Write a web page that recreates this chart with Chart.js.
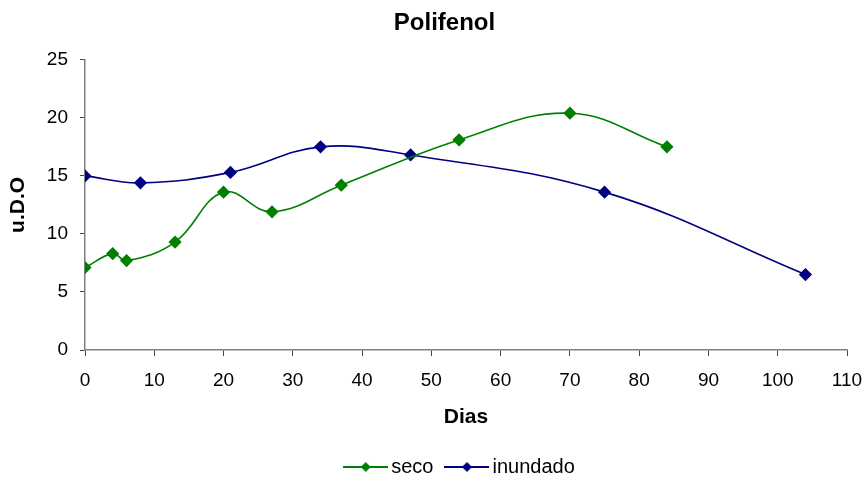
<!DOCTYPE html>
<html>
<head>
<meta charset="utf-8">
<script src="https://cdn.jsdelivr.net/npm/chart.js@4/dist/chart.umd.min.js"></script>
<style>
  html, body { margin: 0; padding: 0; background: #ffffff; }
  #wrap { width: 867px; height: 477px; }
</style>
</head>
<body>
<div id="wrap"><canvas id="chart" width="867" height="477"></canvas></div>
<script>
// Polifenol (u.D.O) a lo largo de los días
const secoDias = [0, 4, 6, 13, 20, 27, 37, 54, 70, 84];
const secoValores = [7.1, 8.3, 7.7, 9.3, 13.6, 11.9, 14.2, 18.1, 20.4, 17.5];
const inundadoDias = [0, 8, 21, 34, 47, 75, 104];
const inundadoValores = [15.0, 14.4, 15.3, 17.5, 16.8, 13.6, 6.5];
const xTicks = [0, 10, 20, 30, 40, 50, 60, 70, 80, 90, 100, 110];
const yTicks = [0, 5, 10, 15, 20, 25];

const GREEN = '#008000';
const NAVY = '#000080';
const FONT = '"Liberation Sans", Arial, sans-serif';

function pairs(xs, ys) {
  return xs.map((x, i) => ({ x: x, y: ys[i] }));
}

// legend symbol: short line with a diamond in the middle
function legendSymbol(color) {
  const c = document.createElement('canvas');
  c.width = 45; c.height = 12;
  const g = c.getContext('2d');
  g.strokeStyle = color; g.lineWidth = 2;
  g.beginPath(); g.moveTo(0, 6); g.lineTo(45, 6); g.stroke();
  g.fillStyle = color;
  g.beginPath(); g.moveTo(22.5, 1); g.lineTo(27.5, 6); g.lineTo(22.5, 11); g.lineTo(17.5, 6); g.closePath(); g.fill();
  return c;
}
const symbols = [legendSymbol(GREEN), legendSymbol(NAVY)];

// nudge title and legend horizontally so they sit over the plot
const blockOffsets = {
  id: 'blockOffsets',
  afterLayout(chart) {
    const shift = (box, dx) => { if (box) { box.left += dx; box.right += dx; } };
    shift(chart.titleBlock, 21);
    shift(chart.legend, 39);
  }
};

new Chart(document.getElementById('chart'), {
  type: 'line',
  data: {
    datasets: [
      {
        label: 'seco',
        data: pairs(secoDias, secoValores),
        borderColor: GREEN,
        backgroundColor: GREEN,
        borderWidth: 1.6,
        pointStyle: 'rectRot',
        pointRadius: 5.5,
        pointHoverRadius: 5.5,
        tension: 0.4,
        fill: false
      },
      {
        label: 'inundado',
        data: pairs(inundadoDias, inundadoValores),
        borderColor: NAVY,
        backgroundColor: NAVY,
        borderWidth: 1.6,
        pointStyle: 'rectRot',
        pointRadius: 5.5,
        pointHoverRadius: 5.5,
        tension: 0.4,
        fill: false
      }
    ]
  },
  plugins: [blockOffsets],
  options: {
    responsive: false,
    animation: false,
    layout: { padding: { left: 0, right: 20, top: 0, bottom: -10 } },
    plugins: {
      title: {
        display: true,
        text: 'Polifenol',
        color: '#000',
        font: { family: FONT, size: 24, weight: 'bold' },
        padding: { top: 9, bottom: 22 }
      },
      legend: {
        display: true,
        position: 'bottom',
        labels: {
          color: '#000',
          font: { family: FONT, size: 20 },
          usePointStyle: true,
          pointStyleWidth: 31,
          boxHeight: 12,
          padding: 18,
          generateLabels: (chart) => chart.data.datasets.map((ds, i) => ({
            text: ds.label,
            fillStyle: ds.borderColor,
            strokeStyle: ds.borderColor,
            fontColor: '#000',
            pointStyle: symbols[i],
            lineWidth: 0,
            datasetIndex: i,
            hidden: false
          }))
        }
      },
      tooltip: { enabled: false }
    },
    scales: {
      x: {
        type: 'linear',
        min: 0,
        max: 110,
        afterBuildTicks: (s) => { s.ticks = xTicks.map(v => ({ value: v })); },
        afterFit: (s) => { s.height = 89; s.paddingRight = 0; },
        ticks: {
          color: '#000',
          font: { family: FONT, size: 19 },
          padding: 13
        },
        grid: {
          display: true,
          drawOnChartArea: false,
          drawTicks: true,
          tickLength: 6,
          color: '#444'
        },
        border: { display: true, color: '#808080', width: 1.5 },
        title: {
          display: true,
          text: 'Dias',
          color: '#000',
          font: { family: FONT, size: 21, weight: 'bold' },
          padding: { top: 0, bottom: 9 }
        }
      },
      y: {
        type: 'linear',
        min: 0,
        max: 25,
        afterBuildTicks: (s) => { s.ticks = yTicks.map(v => ({ value: v })); },
        afterFit: (s) => { s.width = 85; },
        ticks: {
          color: '#000',
          font: { family: FONT, size: 19 },
          padding: 12
        },
        grid: {
          display: true,
          drawOnChartArea: false,
          drawTicks: true,
          tickLength: 5,
          color: '#444'
        },
        border: { display: true, color: '#808080', width: 1.5 },
        title: {
          display: true,
          text: 'u.D.O',
          color: '#000',
          font: { family: FONT, size: 21, weight: 'bold' },
          padding: { top: 6, bottom: 0 }
        }
      }
    }
  }
});
</script>
</body>
</html>
